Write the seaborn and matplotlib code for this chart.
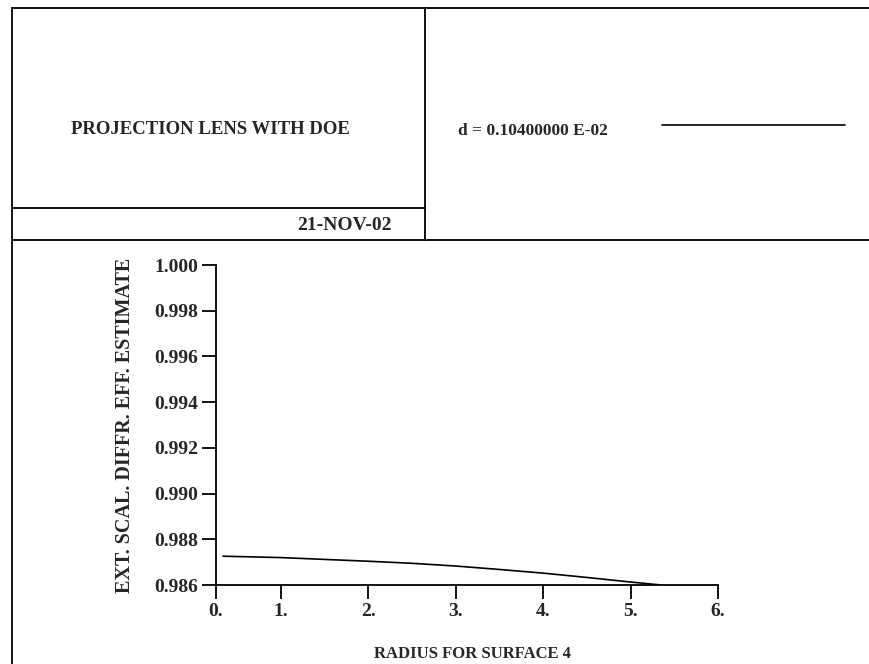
import matplotlib
matplotlib.use("Agg")
import matplotlib.pyplot as plt
from matplotlib.lines import Line2D
import seaborn as sns
import pandas as pd

# curve
radius = [0.34, 1.0, 1.5, 2.0, 2.5, 3.0, 3.5, 4.0, 4.5, 5.0, 5.35]
efficiency = [0.98726, 0.98720, 0.98712, 0.98704, 0.98695, 0.98683, 0.98668, 0.98652, 0.98633, 0.98613, 0.98600]

x_ticks = [0.26, 1, 2, 3, 4, 5, 6]
x_tick_labels = ["0.", "1.", "2.", "3.", "4.", "5.", "6."]
y_ticks = [0.986, 0.988, 0.990, 0.992, 0.994, 0.996, 0.998, 1.000]
y_tick_labels = ["0.986", "0.988", "0.990", "0.992", "0.994", "0.996", "0.998", "1.000"]

title = "PROJECTION LENS WITH DOE"
date = "21-NOV-02"
legend_label = "d = 0.10400000 E-02"

sns.set_style("white")
plt.rcParams["font.family"] = ["Liberation Serif", "DejaVu Serif"]
plt.rcParams["font.weight"] = "bold"
plt.rcParams["axes.labelweight"] = "bold"

df = pd.DataFrame({"radius": radius, "eff": efficiency})

fig = plt.figure(figsize=(8.7, 6.64), dpi=100)
W, H = 870.0, 664.0

def fx(px):
    return px / W

def fy(py):
    return 1 - py / H

# title block frame
lw = 1.3
for (x0, y0, x1, y1) in [(12, 8, 870, 8), (12, 8, 12, 664), (425, 8, 425, 240),
                         (12, 208, 425, 208), (12, 240, 870, 240)]:
    fig.add_artist(Line2D([fx(x0), fx(x1)], [fy(y0), fy(y1)], color="black", lw=lw))

fig.text(fx(210), fy(130), title, ha="center", va="center", fontsize=13.5)
fig.text(fx(392), fy(226), date, ha="right", va="center", fontsize=14)
fig.text(fx(458), fy(131), legend_label, ha="left", va="center", fontsize=12.5)
fig.add_artist(Line2D([fx(662), fx(845)], [fy(125), fy(125)], color="black", lw=1.2))

ax = fig.add_axes([fx(216), fy(585), fx(718) - fx(216), fy(265) - fy(585)])
sns.lineplot(data=df, x="radius", y="eff", ax=ax, color="black", linewidth=1.2)
ax.set_xlim(x_ticks[0], 6)
ax.set_ylim(0.986, 1.000)
ax.set_xticks(x_ticks)
ax.set_xticklabels(x_tick_labels, fontsize=14)
ax.set_yticks(y_ticks)
ax.set_yticklabels(y_tick_labels, fontsize=14)
sns.despine(ax=ax)
for s in ["left", "bottom"]:
    ax.spines[s].set_linewidth(1.3)
    ax.spines[s].set_color("black")
ax.tick_params(axis="both", direction="out", length=10, width=1.3, color="black", pad=3,
               bottom=True, left=True)
ax.set_xlabel("RADIUS FOR SURFACE 4", fontsize=12)
ax.set_ylabel("EXT. SCAL. DIFFR. EFF. ESTIMATE", fontsize=14.5)
ax.xaxis.set_label_coords(0.51, -0.19)
ax.yaxis.set_label_coords(-0.162, 0.5)

fig.savefig("out.png", dpi=100)
